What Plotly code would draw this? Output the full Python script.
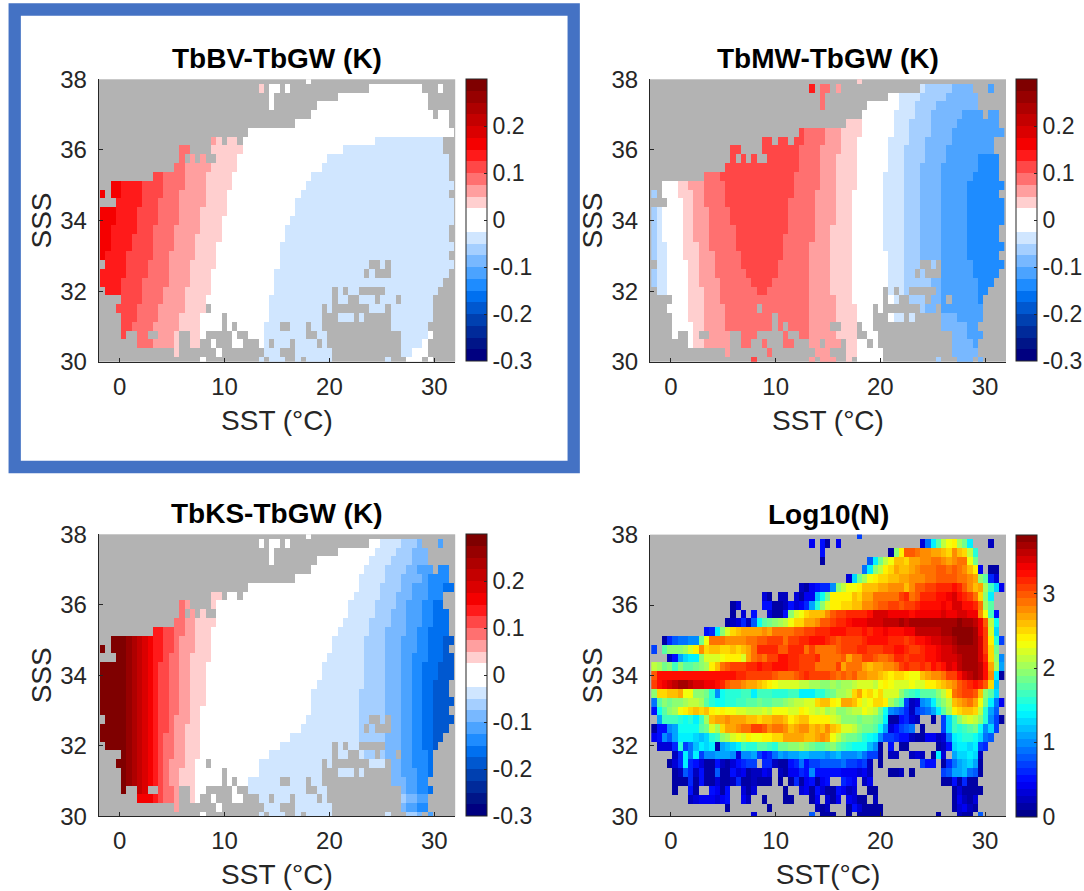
import re
import plotly.graph_objects as go

# grid of the SST / SSS bins
SST_FIRST = -1.624
SST_STEP = 0.5035
SSS_FIRST = 38.0
SSS_STEP = -0.25
N_COLS = 67

# difference classes (K): a..k warm, A..K cool, w near zero
POS_VALUES = {c: 0.0375 + 0.025 * i for i, c in enumerate("abcdefghijk")}
NEG_VALUES = {c: -0.0375 - 0.025 * i for i, c in enumerate("ABCDEFGHIJK")}
POS_COLORS = ["#FFCFCF", "#FF9F9F", "#FF7070", "#FF4747", "#FF1A1A", "#F50000",
              "#DB0000", "#C40000", "#AE0000", "#970000", "#7F0000"]
NEG_COLORS = ["#D0E6FF", "#A5CFFF", "#78B8FF", "#4BA3FF", "#1E8CFF", "#0070F0",
              "#0058D0", "#0040B0", "#002A9A", "#001588", "#000080"]

# each entry: class + column where that class ends (rows from SSS 38 down to 30)
BV_RUNS = [
    "w67", "a31 w67", "w67", "w67", "w67", "w67", "w67",
    "b22 a27 w52 A67", "c17 a27 w46 A67", "c16 b21 a26 w43 A67", "c16 b21 a26 w42 A67",
    "d12 c16 b20 a25 w40 A67", "f4 e8 d12 c16 b20 a25 w39 A67", "f4 e8 d12 c15 b20 a24 w38 A67",
    "e8 d11 c15 b20 a24 w37 A67", "f3 e7 d11 c15 b19 a24 w37 A67", "f3 e7 d11 c15 b19 a23 w36 A67",
    "f2 e7 d10 c14 b19 a23 w35 A67", "f2 e6 d10 c14 b18 a23 w35 A67", "f2 e6 d10 c14 b18 a22 w34 A67",
    "f1 e5 d10 c13 b18 a22 w34 A67", "e5 d9 c13 b17 a22 w34 A67", "e5 d9 c13 b17 a21 w33 A67",
    "e4 d8 c13 b17 a21 w33 A67", "e4 d8 c12 b16 a21 w33 A67", "d8 c12 b16 a20 w32 A67",
    "d7 c11 b16 a20 w32 A67", "d7 c11 b15 a19 w32 A67", "d6 c10 b15 a19 w31 A67",
    "d6 c10 b14 a19 w31 A62 w67", "c10 b14 a19 w31 A61 w67", "a19 w31 A59 w67", "w30 A58 w67",
]
MW_RUNS = [
    "a67", "e31 c34 b50 A52 B57 C64 D67", "c33 w47 A51 B56 C67", "c33 w47 A50 B54 C67",
    "w46 A50 B53 C59 D67", "a40 w46 A49 B53 C58 D67", "d29 c33 b36 a40 w46 A49 B53 C57 D67",
    "d29 c33 b36 a39 w45 A49 B52 C57 D67", "d28 c32 b36 a39 w45 A48 B52 C56 D67",
    "d28 c32 b35 a39 w45 A48 B52 C56 D62 E67", "d28 c32 b35 a39 w45 A48 B51 C55 D62 E67",
    "c13 d27 c32 b35 a39 w44 A48 B51 C55 D61 E67", "w5 a7 b10 c14 d27 c32 b35 a39 w44 A48 B51 C55 D60 E67",
    "B1 w5 a8 b10 c14 d27 c31 b35 a38 w44 A48 B51 C55 D60 E67", "w6 a8 b10 c14 d26 c31 b35 a38 w44 A48 B51 C55 D60 E67",
    "B1 A2 w6 a8 b11 c15 d26 c31 b35 a38 w44 A48 B51 C55 D60 E67", "B1 A2 w6 a8 b11 c15 d26 c31 b35 a38 w44 A48 B51 C55 D60 E67",
    "B1 A2 w6 a8 b11 c16 d26 c31 b34 a38 w44 A48 B51 C55 D60 E67", "B1 A2 w6 a8 b11 c16 d25 c31 b34 a38 w44 A48 B51 C55 D60 E67",
    "B1 A3 w6 a9 b11 c16 d25 c30 b34 a38 w44 A48 B51 C55 D60 E67", "B1 A3 w6 a9 b12 c17 d25 c30 b34 a38 w45 A48 B51 C55 D60 E67",
    "A3 w7 a9 b12 c17 d24 c30 b34 a38 w45 A48 B54 C55 D61 E67", "B1 A3 w7 a9 b12 c18 d24 c30 b34 a38 w45 A48 B54 C55 D61 E67",
    "B1 A3 w7 a9 b13 c19 d23 c30 b34 a38 w45 A48 B53 C55 D62 E67", "A3 w7 a10 b13 c20 d22 c30 b34 a38 w45 A48 B53 C55 D62 E67",
    "w7 a10 b13 c30 b35 a38 w46 A48 B52 C55 D62 E67", "w7 a10 b14 c30 b35 a39 w45 A48 B52 C55 D63 E67",
    "w7 a10 b14 c30 b35 a39 w46 A50 C58 D67", "w8 a10 b14 c30 b35 a39 w50 C60 D67",
    "w8 a9 b15 c30 b35 a39 w44 C60 D67", "w8 a10 b15 c30 b36 a39 w44 B57 C61 D67",
    "b15 c30 b36 a39 w44 C67", "d20 b36 a38 w44 B55 C67",
]
KS_RUNS = [
    "w67", "w53 A57 B60 C64 D67", "w52 A56 B59 C67", "w51 A55 B59 C67", "w50 A54 B58 C60 D64 E67",
    "w49 A54 B57 C61 D62 E67", "w49 A53 B57 C59 D62 E65 F67", "a23 w48 A53 B56 C59 D62 E65 F67",
    "c16 b17 a22 w47 A52 B56 C58 D61 E63 F67", "c16 b18 a22 w47 A52 B55 C58 D61 E63 F67",
    "c16 b18 a22 w46 A51 B55 C58 D61 E63 F67", "e12 d14 c16 b18 a21 w45 A51 B54 C58 D60 E62 F67",
    "k5 j6 i7 h8 g9 f10 e12 d14 c15 b18 a21 w44 A50 B54 C57 D60 E62 F65 G67",
    "k5 j6 i7 h8 g9 f10 e12 d14 c15 b18 a21 w44 A50 B54 C57 D60 E62 F65 G67",
    "k5 j6 i7 h8 g9 f10 e12 d13 c15 b17 a21 w43 A50 B54 C57 D59 E62 F65 G67",
    "k5 j6 i7 h8 g9 f10 e11 d13 c15 b17 a20 w42 A50 B54 C57 D59 E61 F64 G67",
    "k5 j6 i7 h8 g9 f10 e11 d13 c15 b17 a20 w42 A50 B54 C57 D59 E61 F64 G67",
    "k5 j6 i7 h8 g9 f10 e11 d13 c15 b17 a20 w41 A50 B54 C57 D59 E61 F63 G67",
    "k5 j6 i7 h8 g9 f10 e11 d13 c15 b17 a20 w40 A49 B54 C57 D59 E61 F63 G67",
    "k5 j6 i7 h8 g9 f10 e11 d13 c15 b17 a20 w40 A49 B54 C57 D59 E61 F63 G67",
    "k5 j6 i7 h8 g9 f10 e11 d13 c15 b17 a19 w40 A49 B54 C57 D59 E61 F63 G67",
    "k5 j6 i7 h8 g9 f10 e11 d13 c14 b17 a19 w39 A49 B54 C57 D59 E61 F63 G67",
    "k5 j6 i7 h8 g9 f10 e11 d13 c14 b16 a19 w38 A49 B54 C57 D59 E61 F63 G67",
    "k5 j6 i7 h8 g9 f10 e11 d12 c14 b16 a19 w36 A49 B54 C57 D59 E61 F63 G67",
    "k5 j6 i7 h8 g9 f10 e11 d12 c14 b16 a19 w34 A49 B54 C57 D59 E61 F63 G67",
    "k5 j6 i7 h8 g9 f10 e11 d12 c14 b16 a19 w32 A50 B54 C57 D59 E62 F67",
    "k5 j6 i7 h8 g9 f10 e11 d12 c13 b16 a18 w30 A54 C57 D59 E62 F67",
    "k5 j6 i7 h8 g9 f10 e11 d12 c13 b15 a18 w30 A54 C57 D60 E62 F67",
    "k5 j6 i7 h8 g9 f10 e11 d12 c13 b15 a18 w28 A55 C58 D60 E62 F67",
    "k7 h8 g9 f11 d12 c14 b15 a18 w28 A57 C58 D60 E62 F67",
    "f10 e11 d12 c14 b15 a18 w30 A57 B58 C60 D67",
    "b15 a19 w31 A57 C58 D60 E67",
    "w30 A58 B60 C62 D67",
]

# Log10(N): one character per bin, '.' = no data, 0-9a-zA-D = classes of width 0.095
N_CLASSES = "0123456789abcdefghijklmnopqrstuvwxyzABCD"
LOGN_ROWS = [
    ".......... .......... .......... .........7 .......... .......... .......",
    ".......... .......... .......... 4.51.4.... .......... .39eimoplj e...2..",
    ".......... .......... .......... ..5....... .....1kpvv uttssrqtrq mg.....",
    ".......... .......... .......... ..1....... .8ejmorrqs sttuutstuu oj.....",
    ".......... .......... .......... .......... 9ekmpqsrrs tuuuvvuvut rp4.11.",
    ".......... .......... .......... .......3dj lopqqrrsst ttuuvvvvuu tski63.",
    ".......... .......... ........21 4566akmoop rrrsstttrt vvwwxxxyxv trslhd4",
    ".......... .......... .31.22.314 4cfjpppprq ssuuuuuwxu vxxxyyzAyx wuqke..",
    ".......... .....13... .551125346 bgknppqqrr ttuvvwwvww xyyyyzyAAy yxuli..",
    ".......... .....1.3.5 ..3115knoq rrrtvwwxxx xyAAAzzzzy zzzzzAzzAA zztoh5.",
    ".......... ....123628 fijklmoqqs stvvwxxyzz zAAABBBCBC CCCCCCCCDC CBzvmf.",
    ".......... 56eknqrsss stsuuuuvvw wxxxyyyxxx yxyyzyyyzz BBBBBCCDDD DCzwnd.",
    "..16899aaj ouuuttttuu vvwwwuwwxx yyyxwvwwww xyyyyxxxwx yyzAABBCDD DCAwpg7",
    "7.ikkklnpt qrrqqrqrsu xxxxvvxxxu wuuuuvwwwx xwwwxxyyxw wxyyzAABCC CCAwqj.",
    "...25bdeek nnnopppnsu vuwwyyxxww wxuuuuvsuu wwvuuvxxwx xxyyzAAABC CCAxqka",
    "mljkhkiijk lpruvwwwxx yxxyyyxxww wuuuuwsuuu srssttuwxw wxwyxyAzBC CCByslb",
    "vyyyyyyyyy yyyyyyxxww wwwvuuuvwx wwwwvuvuvt tssrqpqqpo orsttuwwyA BCByte1",
    "wyzABCCBAA zzyxvuutss rqponnnnmm llkklkllmn nnmoponnno nnppqrstvw xyxvqc.",
    "kqqrrsookk jgafggghhe hhhggghhee eggijllmqs pqoqnnnkih giiikmpuvw wvrkid.",
    "9ikjkklmml igffgghhii jiijjklmmn nqrrpossrp noqqpljh72 3abeikmrst usoje94",
    "5fiklopqrq rpopoonnmm mnmooonnpo nmnlmkklmm onmjfa9862 789beilpqr rqmgb8.",
    ".bhhhgfgeh lrsstsssrr qrrssrpqrr ppppnmkkkj kkjie11563 2..1.7dhkm nmkga71",
    "155abffffi jnlqsstuuw wvtuutrstt rsrtrqnnmk jjifb35789 .1...7dhgh ijfad7.",
    "45a8beeedc dghklnonpo oppqqssssr rstsomkjji gfea776552 1144239efg gfd98..",
    ".3336g79ce de1bcdehgg iihgjjkklk jiijkihgff fca1.5.11. ....125dee de76...",
    "....26e9e7 aabbba3aab 7569babbcc bbbabcaaab 9771.22..2 32.1e3.bdd ed2....",
    "...136e653 1152135677 .662115695 7788889776 72.1...... .755.169bc db1....",
    "....128625 1181153412 243.214465 a555554443 42...112.1 .....78bbc 981....",
    "....111615 1131126112 111.1.1614 5145..654. 24........ .....11516 11.....",
    "....1..51. .5415..313 .....1..34 153115423. .11....... .......131 111....",
    ".......234 44345..42. .1...11... 14.314.431 1.2....... .......142 13.....",
    ".......... ....1..... ..1....... .212...153 1111...... .......134 21.....",
    ".......... .........3 .......... 8.111..1.1 1111...... ....1...21 1.8....",
]

X_TICKS = [0, 10, 20, 30]
Y_TICKS = [30, 32, 34, 36, 38]
DIFF_TICKS = [-0.3, -0.2, -0.1, 0, 0.1, 0.2]
DIFF_LABELS = ["-0.3", "-0.2", "-0.1", "0", "0.1", "0.2"]
LOGN_TICKS = [0, 1, 2, 3]
TITLES = ["TbBV-TbGW (K)", "TbMW-TbGW (K)", "TbKS-TbGW (K)", "Log10(N)"]
X_LABELS = ["SST (°C)", "SST (°C)", "SST (°C)", "SST(°C)"]

W, H = 1084, 891
FONT = "Liberation Sans"
INK = "#262626"
LEFT = [98.7, 650.0, 98.7, 650.0]
RIGHT = [455.2, 1006.0, 455.2, 1006.0]
TOP = [79.3, 79.3, 534.3, 534.6]
BOTTOM = [361.7, 361.7, 816.3, 816.3]
BAR_LEFT = [465.5, 1015.5, 465.5, 1015.5]


def logn_matrix():
    rows = []
    for row in LOGN_ROWS:
        cells = row.replace(" ", "")
        rows.append([None if c == "." else (N_CLASSES.index(c) + 0.5) * 0.095 for c in cells])
    return rows


def diff_matrix(runs, mask):
    table = {"w": 0.0, **POS_VALUES, **NEG_VALUES}
    out = []
    for run, mrow in zip(runs, mask):
        row, start = [None] * N_COLS, 0
        for code, end in re.findall(r"([a-zA-Z])(\d+)", run):
            for k in range(start, int(end)):
                if mrow[k] is not None:
                    row[k] = table[code]
            start = int(end)
        out.append(row)
    return out


def stepped(colors):
    n = len(colors)
    scale = []
    for i, c in enumerate(colors):
        scale += [[i / n, c], [(i + 1) / n, c]]
    return scale


def jet(n):
    cols = []
    for i in range(n):
        t = (i + 0.5) / n * 4
        r = min(max(min(t - 1.5, 4.5 - t), 0), 1)
        g = min(max(min(t - 0.5, 3.5 - t), 0), 1)
        b = min(max(min(t + 0.5, 2.5 - t), 0), 1)
        cols.append(f"rgb({int(r*255)},{int(g*255)},{int(b*255)})")
    return cols


DIFF_SCALE = stepped(NEG_COLORS[::-1] + ["#FFFFFF", "#FFFFFF"] + POS_COLORS)
LOGN_SCALE = stepped(jet(40))

logn = logn_matrix()
panels = [diff_matrix(BV_RUNS, logn), diff_matrix(MW_RUNS, logn), diff_matrix(KS_RUNS, logn), logn]

fig = go.Figure()
layout = {}
annotations = []
for i, z in enumerate(panels):
    s = "" if i == 0 else str(i + 1)
    is_diff = i < 3
    fig.add_trace(go.Heatmap(
        z=z, x0=SST_FIRST, dx=SST_STEP, y0=SSS_FIRST, dy=SSS_STEP,
        xaxis="x" + s, yaxis="y" + s, hoverongaps=False,
        zmin=-0.3 if is_diff else 0, zmax=0.3 if is_diff else 3.8,
        colorscale=DIFF_SCALE if is_diff else LOGN_SCALE,
        colorbar=dict(
            x=BAR_LEFT[i] / W, xanchor="left", xpad=0,
            y=1 - TOP[i] / H, yanchor="top", ypad=0,
            len=BOTTOM[i] - TOP[i], lenmode="pixels",
            thickness=20.5, thicknessmode="pixels",
            outlinecolor=INK, outlinewidth=1, borderwidth=0,
            ticks="inside", ticklen=3, tickcolor=INK, tickwidth=1,
            tickvals=DIFF_TICKS if is_diff else LOGN_TICKS,
            ticktext=DIFF_LABELS if is_diff else [str(v) for v in LOGN_TICKS],
            tickfont=dict(family=FONT, size=23, color=INK),
        ),
    ))
    layout["xaxis" + s] = dict(
        domain=[LEFT[i] / W, RIGHT[i] / W], anchor="y" + s, range=[-2, 32],
        tickvals=X_TICKS, ticks="inside", ticklen=4, tickcolor=INK, tickwidth=1,
        showline=True, linecolor=INK, linewidth=1, showgrid=False, zeroline=False,
        tickfont=dict(family=FONT, size=24, color=INK), ticklabelstandoff=3,
        title=dict(text=X_LABELS[i], font=dict(family=FONT, size=28, color=INK), standoff=11),
    )
    layout["yaxis" + s] = dict(
        domain=[1 - BOTTOM[i] / H, 1 - TOP[i] / H], anchor="x" + s, range=[30, 38],
        tickvals=Y_TICKS, ticks="inside", ticklen=4, tickcolor=INK, tickwidth=1,
        showline=True, linecolor=INK, linewidth=1, showgrid=False, zeroline=False,
        tickfont=dict(family=FONT, size=24, color=INK), ticklabelstandoff=6,
        title=dict(text="SSS", font=dict(family=FONT, size=28, color=INK), standoff=0),
    )
    annotations.append(dict(
        text="<b>" + TITLES[i] + "</b>", xref="paper", yref="paper",
        x=(LEFT[i] + RIGHT[i]) / 2 / W - 0.0,
        y=1 - (TOP[i] - 3) / H, xanchor="center", yanchor="bottom", showarrow=False,
        font=dict(family=FONT, size=28, color="#000000"),
    ))

fig.update_layout(
    width=W, height=H, autosize=False,
    margin=dict(l=0, r=0, t=0, b=0, autoexpand=False),
    paper_bgcolor="#FFFFFF", plot_bgcolor="#B3B3B3",
    font=dict(family=FONT),
    annotations=annotations,
    shapes=[dict(type="rect", xref="paper", yref="paper", layer="below",
                 x0=14.7 / W, x1=573.7 / W, y0=1 - 467 / H, y1=1 - 9.5 / H,
                 line=dict(color="#4472C4", width=12.3), fillcolor="rgba(0,0,0,0)")],
    **layout,
)
fig.write_html("out.html", config=dict(displayModeBar=False),
               post_script="document.body.style.margin='0';document.body.style.overflow='hidden';")
